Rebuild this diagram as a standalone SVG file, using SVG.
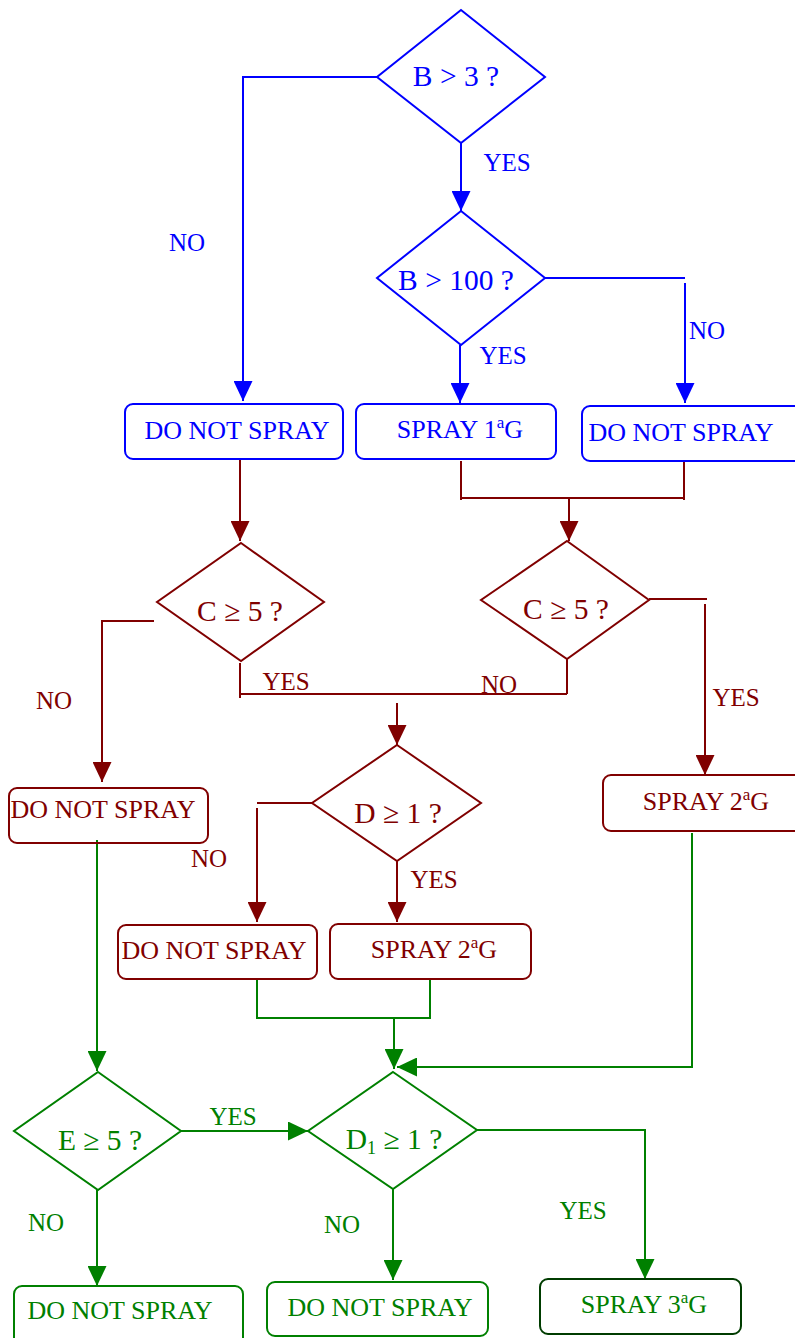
<svg xmlns="http://www.w3.org/2000/svg" width="795" height="1338" viewBox="0 0 795 1338">
<style>
text{font-family:"Liberation Serif","Times New Roman",serif;text-anchor:middle}
.b{stroke:#0000ff;fill:none;stroke-width:2}
.r{stroke:#800000;fill:none;stroke-width:2}
.g{stroke:#008000;fill:none;stroke-width:2}
.tb{fill:#0000ff}.tr{fill:#800000}.tg{fill:#008000}
.d{font-size:29.5px}.x{font-size:26px}.l{font-size:25px}
.sup{font-size:17px}
</style>
<defs>
<marker id="ab" viewBox="0 0 20 19" refX="20" refY="9.5" markerWidth="20" markerHeight="19" markerUnits="userSpaceOnUse" orient="auto"><path d="M0,0L20,9.5L0,19Z" fill="#0000ff"/></marker>
<marker id="ar" viewBox="0 0 20 19" refX="20" refY="9.5" markerWidth="20" markerHeight="19" markerUnits="userSpaceOnUse" orient="auto"><path d="M0,0L20,9.5L0,19Z" fill="#800000"/></marker>
<marker id="ag" viewBox="0 0 20 19" refX="20" refY="9.5" markerWidth="20" markerHeight="19" markerUnits="userSpaceOnUse" orient="auto"><path d="M0,0L20,9.5L0,19Z" fill="#008000"/></marker>
</defs>
<rect width="795" height="1338" fill="#ffffff"/>

<g id="connectors">
<path class="b" d="M377,77H243V401" marker-end="url(#ab)"/>
<path class="b" d="M461,143V211" marker-end="url(#ab)"/>
<path class="b" d="M545,278H685"/>
<path class="b" d="M685,283V403" marker-end="url(#ab)"/>
<path class="b" d="M460,345V403" marker-end="url(#ab)"/>
<path class="r" d="M240,459V541" marker-end="url(#ar)"/>
<path class="r" d="M461,461V500M684,461V500M461,498H684"/>
<path class="r" d="M569,498V541" marker-end="url(#ar)"/>
<path class="r" d="M154,621H102V782" marker-end="url(#ar)"/>
<path class="r" d="M649,599H707"/>
<path class="r" d="M705,604V775" marker-end="url(#ar)"/>
<path class="r" d="M240,663V698M567,659V694M240,694H567"/>
<path class="r" d="M397,703V745" marker-end="url(#ar)"/>
<path class="r" d="M312,803H257"/>
<path class="r" d="M257,808V922" marker-end="url(#ar)"/>
<path class="r" d="M397,861V922" marker-end="url(#ar)"/>
<path class="g" d="M97,840V1071" marker-end="url(#ag)"/>
<path class="g" d="M257,979V1019M430,979V1019M257,1018H430"/>
<path class="g" d="M394,1019V1069" marker-end="url(#ag)"/>
<path class="g" d="M692,833V1067H397" marker-end="url(#ag)"/>
<path class="g" d="M181,1131H308" marker-end="url(#ag)"/>
<path class="g" d="M477,1130H645V1279" marker-end="url(#ag)"/>
<path class="g" d="M393,1189V1280" marker-end="url(#ag)"/>
<path class="g" d="M97,1190V1286" marker-end="url(#ag)"/>
</g>

<g id="labels">
<text class="l tb" x="507" y="171">YES</text>
<text class="l tb" x="187" y="251">NO</text>
<text class="l tb" x="503" y="364">YES</text>
<text class="l tb" x="707" y="339">NO</text>
<text class="l tr" x="54" y="709">NO</text>
<text class="l tr" x="736" y="706">YES</text>
<text class="l tr" x="286" y="690">YES</text>
<text class="l tr" x="499" y="693">NO</text>
<text class="l tr" x="209" y="867">NO</text>
<text class="l tr" x="434" y="888">YES</text>
<text class="l tg" x="233" y="1125">YES</text>
<text class="l tg" x="46" y="1231">NO</text>
<text class="l tg" x="342" y="1233">NO</text>
<text class="l tg" x="583" y="1219">YES</text>
</g>

<g id="d-b3"><path class="b" d="M461,10L545,77L461,143L377,77Z"/><text class="d tb" x="456" y="86">B &gt; 3 ?</text></g>
<g id="d-b100"><path class="b" d="M461,211L545,278L461,345L377,278Z"/><text class="d tb" x="456" y="290">B &gt; 100 ?</text></g>
<g id="n-dns1"><rect class="b" x="125" y="404" width="218" height="55" rx="8"/><text class="x tb" x="237" y="439">DO NOT SPRAY</text></g>
<g id="n-spray1"><rect class="b" x="356" y="404" width="200" height="55" rx="8"/><text class="x tb" x="460" y="438">SPRAY 1<tspan class="sup" dy="-10">a</tspan><tspan dy="10">G</tspan></text></g>
<g id="n-dns2"><rect class="b" x="582" y="406" width="230" height="55" rx="8"/><text class="x tb" x="681" y="441">DO NOT SPRAY</text></g>

<g id="d-c5a"><path class="r" d="M241,543L324,602L241,661L157,602Z"/><text class="d tr" x="240" y="621">C ≥ 5 ?</text></g>
<g id="d-c5b"><path class="r" d="M567,541L649,600L567,659L481,600Z"/><text class="d tr" x="566" y="619">C ≥ 5 ?</text></g>
<g id="n-dns3"><rect class="r" x="9" y="788" width="199" height="55" rx="8"/><text class="x tr" x="103" y="818">DO NOT SPRAY</text></g>
<g id="n-spray2a"><rect class="r" x="603" y="775" width="210" height="56" rx="8"/><text class="x tr" x="706" y="810">SPRAY 2<tspan class="sup" dy="-10">a</tspan><tspan dy="10">G</tspan></text></g>
<g id="d-d1"><path class="r" d="M397,745L481,803L397,861L312,803Z"/><text class="d tr" x="398" y="823">D ≥ 1 ?</text></g>
<g id="n-dns4"><rect class="r" x="118" y="925" width="199" height="54" rx="8"/><text class="x tr" x="214" y="959">DO NOT SPRAY</text></g>
<g id="n-spray2b"><rect class="r" x="330" y="924" width="201" height="55" rx="8"/><text class="x tr" x="434" y="958">SPRAY 2<tspan class="sup" dy="-10">a</tspan><tspan dy="10">G</tspan></text></g>

<g id="d-e5"><path class="g" d="M98,1072L181,1131L98,1190L14,1131Z"/><text class="d tg" x="100" y="1150">E ≥ 5 ?</text></g>
<g id="d-d11"><path class="g" d="M393,1072L477,1130L393,1189L308,1131Z"/><text class="d tg" x="394" y="1149">D<tspan font-size="18" dy="5">1</tspan><tspan dy="-5"> ≥ 1 ?</tspan></text></g>
<g id="n-dns5"><rect class="g" x="14" y="1286" width="229" height="60" rx="8"/><text class="x tg" x="120" y="1319">DO NOT SPRAY</text></g>
<g id="n-dns6"><rect class="g" x="267" y="1282" width="221" height="54" rx="8"/><text class="x tg" x="380" y="1316">DO NOT SPRAY</text></g>
<g id="n-spray3"><rect x="540" y="1279" width="201" height="55" rx="8" fill="none" stroke="#003c00" stroke-width="2"/><text class="x tg" x="644" y="1313">SPRAY 3<tspan class="sup" dy="-10">a</tspan><tspan dy="10">G</tspan></text></g>
</svg>
